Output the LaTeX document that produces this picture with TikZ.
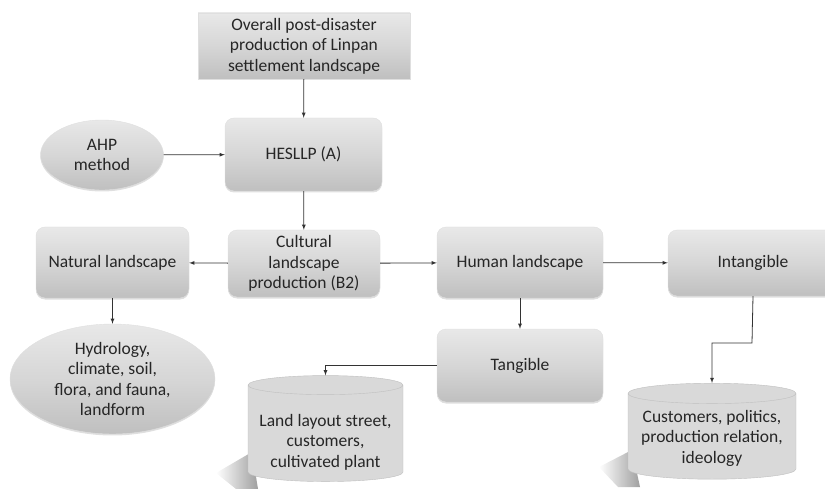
\documentclass[tikz,border=0pt]{standalone}
\usepackage{fontspec}
\setmainfont{Carlito}
\usepackage{tikz}
\usetikzlibrary{calc,positioning,shapes,shadows,arrows,fadings}

\tikzset{
	box/.style={draw=gray!25,top color=gray!18,bottom color=gray!50,middle color=gray!32,
		align=center,text=black!85,font=\fontsize{17.5}{20.5}\selectfont,inner sep=2pt,
		drop shadow={shadow xshift=0pt,shadow yshift=-1.5pt,opacity=0.25}},
	rbox/.style={box,rounded corners=9pt},
	oval/.style={box,ellipse},
	drum/.style={cylinder,shape border rotate=90,aspect=0.14,draw=gray!50,fill=gray!30,
		align=center,text=black!85,font=\fontsize{17.5}{20.5}\selectfont,inner sep=2pt},
	cast/.style={gray!75,path fading=west},
	link/.style={-latex,black!80,line width=0.8pt}
}

\begin{document}
\begin{tikzpicture}[x=1pt,y=-1pt]
		\useasboundingbox (0,0) rectangle (825,489);
		% shadows under the two drums
		\fill[cast] (252,452) -- (216,473) -- (236,489) -- (258,489) -- cycle;
		\fill[cast] (632,450) -- (599,467) -- (618,487) -- (640,487) -- cycle;
		\node(1) [box,minimum width=212,minimum height=66] at (304,46) {Overall post-disaster\\production of Linpan\\settlement landscape};
		\node(2) [rbox,minimum width=157,minimum height=73] at (303.5,154.5) {HESLLP (A)};
		\node(3) [oval,minimum width=123,minimum height=70] at (102,155) {AHP\\method};
		\node(4) [rbox,minimum width=152,minimum height=67] at (304,263.5) {Cultural\\landscape\\production (B2)};
		\node(5) [rbox,minimum width=153,minimum height=71] at (112.5,262.5) {Natural landscape};
		\node(6) [rbox,minimum width=166,minimum height=71] at (520,262.5) {Human landscape};
		\node(7) [rbox,minimum width=170,minimum height=66] at (753,263) {Intangible};
		\node(8) [rbox,minimum width=166,minimum height=73] at (520,365.5) {Tangible};
		\node(9) [oval,minimum width=205,minimum height=88] at (112.5,379) {Hydrology,\\climate, soil,\\flora, and fauna,\\landform};
		\node(10) [drum,minimum width=155,minimum height=106] at (325.5,434.5) {\\[6.5pt]Land layout street,\\customers,\\cultivated plant};
		\node(11) [drum,minimum width=168,minimum height=96] at (712,437.5) {\\[-7pt]Customers, politics,\\production relation,\\ideology};
		\coordinate (bend) at (752,343);
		\path[link]
			(1) edge (2)
			(3) edge (2)
			(2) edge (4)
			(4) edge (5)
			(4) edge (6)
			(6) edge (7)
			(5) edge (9)
			(6) edge (8);
		\draw[link] (8.west) -| (10.top);
		\draw[link] (7.south) -- (bend) -| (11.top);
	\end{tikzpicture}
\end{document}
